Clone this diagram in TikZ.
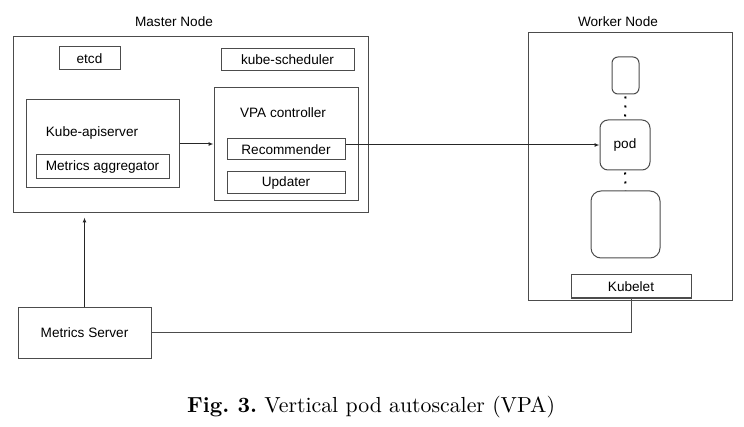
\documentclass[tikz,border=0pt]{standalone}
\usepackage{fontspec}
\setsansfont{Liberation Sans}
\usetikzlibrary{arrows.meta}
\frenchspacing
\begin{document}
\begin{tikzpicture}[x=0.5pt, y=-0.5pt,
  box/.style={draw=black!70, line width=0.5pt, inner sep=0pt, font=\sffamily\fontsize{6.8}{8}\selectfont},
  podbox/.style={box, rounded corners=#1},
  lbl/.style={inner sep=0pt, font=\sffamily\fontsize{6.8}{8}\selectfont},
  arr/.style={draw=black!85, line width=0.5pt, -{Latex[length=2.5pt,width=2pt]}},
  wire/.style={draw=black!70, line width=0.5pt},
  podgap/.style={line width=1pt, dash pattern=on 1pt off 3.5pt}]
\useasboundingbox (0,0) rectangle (744,427);
% master node
\node[lbl] (mlabel) at (174,22) {Master Node};
\node[box, minimum width=177.5pt, minimum height=88pt] (master) at (190.5,125) {};
\node[box, minimum width=30.5pt, minimum height=11.5pt] (etcd) at (89.5,58.5) {etcd};
\node[box, minimum width=66.5pt, minimum height=11pt] (sched) at (287.5,60) {kube-scheduler};
\node[box, minimum width=76.5pt, minimum height=44pt] (api) at (102.5,144) {};
\node[lbl] (apilabel) at (92,133) {Kube-apiserver};
\node[box, minimum width=66.5pt, minimum height=12pt] (aggr) at (102.5,167) {Metrics aggregator};
\node[box, minimum width=72pt, minimum height=56.5pt] (vpa) at (286,144.5) {};
\node[lbl] (vpalabel) at (283,113) {VPA controller};
\node[box, minimum width=59pt, minimum height=10.5pt] (rec) at (286,149.5) {Recommender};
\node[box, minimum width=59pt, minimum height=11pt] (upd) at (286,183) {Updater};
% worker node
\node[lbl] (wlabel) at (618,22) {Worker Node};
\node[box, minimum width=102pt, minimum height=133.5pt] (worker) at (630,166.5) {};
\node[podbox=3pt, minimum width=13.5pt, minimum height=18.5pt] (pod1) at (625.5,75.5) {};
\node[podbox=4pt, minimum width=25pt, minimum height=25pt] (pod) at (625,145) {pod};
\node[podbox=5pt, minimum width=34.5pt, minimum height=33.5pt] (pod3) at (625.5,224.5) {};
\node[box, minimum width=60pt, minimum height=11.5pt] (kubelet) at (631,286.5) {Kubelet};
\draw[podgap] ([yshift=-1pt]pod1.south) -- (pod.north);
\draw[podgap] ([yshift=-1pt]pod.south) -- (pod3.north);
% metrics server
\node[box, minimum width=66.5pt, minimum height=25.5pt] (ms) at (84.5,332.5) {Metrics Server};
\draw[arr] (api.east) -- (api.east -| vpa.west);
\draw[arr] (rec.east |- pod.west) -- (pod.west);
\draw[arr, shorten >=2pt] (ms.north) -- (ms.north |- master.south);
\draw[wire] (ms.east) -| (kubelet.south);
\node[font=\fontsize{10.9}{13}\selectfont] (caption) at (371,407) {\textbf{Fig. 3.} Vertical pod autoscaler (VPA)};
\end{tikzpicture}
\end{document}
